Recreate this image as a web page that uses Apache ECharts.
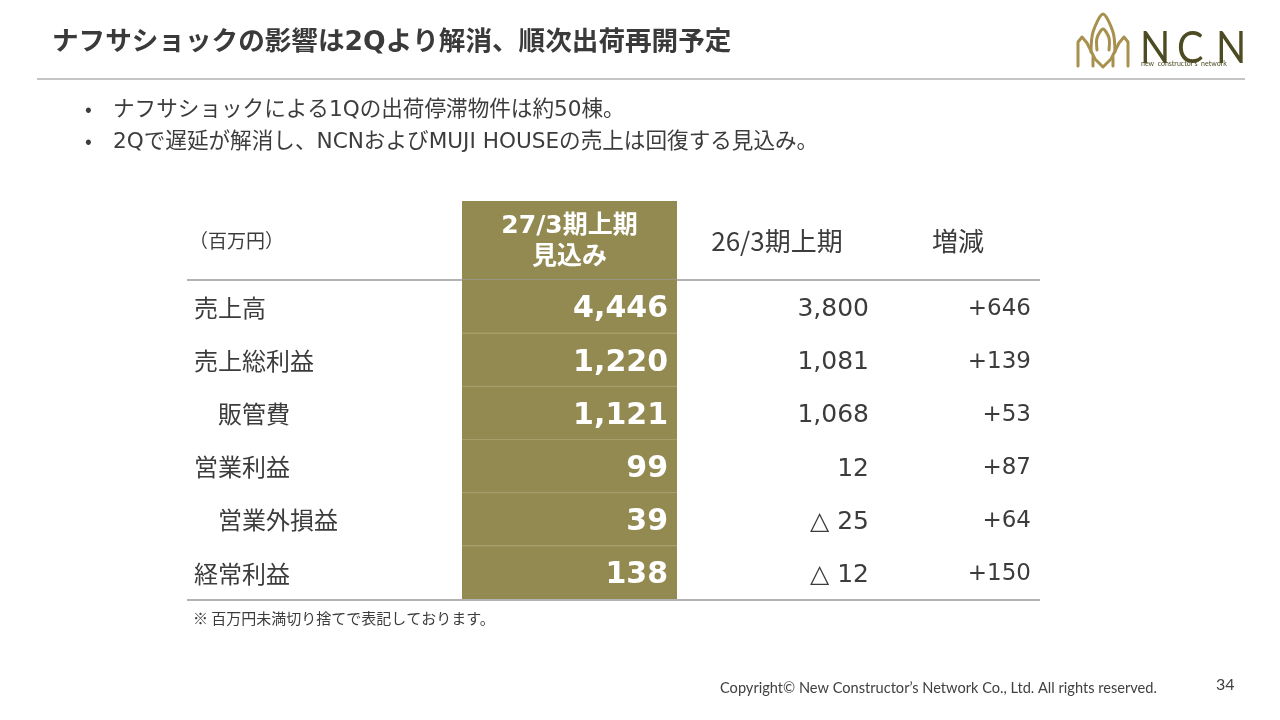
<!DOCTYPE html>
<html lang="ja">
<head>
<meta charset="UTF-8">
<script src="https://cdn.jsdelivr.net/npm/echarts@6/dist/echarts.min.js"></script>
<style>
    html, body {
        margin: 0;
        padding: 0;
        background: #fff;
    }

    #main {
        width: 1280px;
        height: 720px;
    }
</style>
<title>ナフサショックの影響</title>
</head>
<body>
<div id="main"></div>
<script>
    // 表のデータ（百万円）
    const rowLabels = ['売上高', '売上総利益', '販管費', '営業利益', '営業外損益', '経常利益'];
    const rowIndent = [false, false, true, false, true, false];
    const fy27Plan = [4446, 1220, 1121, 99, 39, 138];
    const fy26Actual = [3800, 1081, 1068, 12, -25, -12];
    const yoyChange = [646, 139, 53, 87, 64, 150];
    const headers = ['（百万円）', '27/3期上期\n見込み', '26/3期上期', '増減'];

    const titleText = 'ナフサショックの影響は2Qより解消、順次出荷再開予定';
    const bullets = [
        'ナフサショックによる1Qの出荷停滞物件は約50棟。',
        '2Qで遅延が解消し、NCNおよびMUJI HOUSEの売上は回復する見込み。'
    ];
    const noteText = '※ 百万円未満切り捨てで表記しております。';
    const copyright = 'Copyright© New Constructor’s Network Co., Ltd. All rights reserved.';
    const pageNo = '34';

    const JP = "'Noto Sans CJK JP', sans-serif";
    const NUM = "'DejaVu Sans', 'Noto Sans CJK JP', sans-serif";
    const TEXT = '#3c3c3c';
    const OLIVE = '#938a52';

    // 表のレイアウト（グリッド座標系の単位 = px）
    const HEADER_H = 79 / 53.17;
    const hiLeft = 275, hiRight = 490;
    const tableW = 853;

    const fmt = v => Math.abs(v).toLocaleString('en-US');
    const fmtActual = v => (v < 0 ? '△ ' : '') + fmt(v);
    const fmtChange = v => (v < 0 ? '△ ' : '+') + fmt(v);

    const myChart = echarts.init(document.getElementById('main'));

    function renderRow(params, api) {
        const r = api.value(0);
        const top = r < 0 ? -HEADER_H : r;
        const bottom = r < 0 ? 0 : r + 1;
        const p0 = api.coord([hiLeft, top]);
        const p1 = api.coord([hiRight, bottom]);
        const xL = api.coord([0, 0])[0];
        const xR = api.coord([tableW, 0])[0];
        const midY = (p0[1] + p1[1]) / 2;
        const at = x => api.coord([x, 0])[0];
        const children = [{
            type: 'rect',
            shape: {x: p0[0], y: p0[1], width: p1[0] - p0[0], height: p1[1] - p0[1]},
            style: {fill: OLIVE}
        }];
        if (r < 0) {
            children.push({
                type: 'line',
                shape: {x1: xL, y1: p1[1], x2: xR, y2: p1[1]},
                style: {stroke: '#9a9a9a', lineWidth: 1.5}
            });
            children.push({
                type: 'text', x: at(2), y: midY,
                style: {text: headers[0], font: '19px ' + JP, fill: TEXT, align: 'left', verticalAlign: 'middle'}
            });
            children.push({
                type: 'text', x: (p0[0] + p1[0]) / 2, y: midY + 2,
                style: {text: headers[1], font: 'bold 25px ' + NUM, lineHeight: 31, fill: '#fff', align: 'center', verticalAlign: 'middle'}
            });
            children.push({
                type: 'text', x: at(590), y: midY + 1,
                style: {text: headers[2], font: '26px ' + JP, fill: TEXT, align: 'center', verticalAlign: 'middle'}
            });
            children.push({
                type: 'text', x: at(771), y: midY + 1,
                style: {text: headers[3], font: '26px ' + JP, fill: TEXT, align: 'center', verticalAlign: 'middle'}
            });
        } else {
            if (r > 0) {
                children.push({
                    type: 'line',
                    shape: {x1: p0[0], y1: p0[1], x2: p1[0], y2: p0[1]},
                    style: {stroke: '#a69e6c', lineWidth: 1}
                });
            }
            if (r === rowLabels.length - 1) {
                children.push({
                    type: 'line',
                    shape: {x1: xL, y1: p1[1] + 1, x2: xR, y2: p1[1] + 1},
                    style: {stroke: '#9a9a9a', lineWidth: 1.5}
                });
            }
            children.push({
                type: 'text', x: at(rowIndent[r] ? 31 : 7), y: midY + 1,
                style: {text: rowLabels[r], font: '24px ' + JP, fill: TEXT, align: 'left', verticalAlign: 'middle'}
            });
            children.push({
                type: 'text', x: at(481), y: midY + 3,
                style: {text: fmt(fy27Plan[r]), font: 'bold 30px ' + NUM, fill: '#fff', align: 'right', verticalAlign: 'middle'}
            });
            children.push({
                type: 'text', x: at(682), y: midY + 3,
                style: {text: fmtActual(fy26Actual[r]), font: '25px ' + NUM, fill: TEXT, align: 'right', verticalAlign: 'middle'}
            });
            children.push({
                type: 'text', x: at(844), y: midY + 2,
                style: {text: fmtChange(yoyChange[r]), font: '23px ' + NUM, fill: TEXT, align: 'right', verticalAlign: 'middle'}
            });
        }
        return {type: 'group', children: children};
    }

    const rowData = [[-1]].concat(rowLabels.map((l, i) => [i]));

    const logoStroke = {stroke: '#a8914f', lineWidth: 3, fill: null, lineCap: 'round', lineJoin: 'round'};

    const option = {
        animation: false,
        grid: {left: 187, top: 201, width: tableW, height: 398},
        xAxis: {type: 'value', min: 0, max: tableW, show: false},
        yAxis: {type: 'value', min: -HEADER_H, max: rowLabels.length, inverse: true, show: false},
        series: [{
            type: 'custom',
            coordinateSystem: 'cartesian2d',
            renderItem: renderRow,
            data: rowData,
            silent: true
        }],
        graphic: [
            {
                type: 'text', x: 52, y: 30,
                style: {text: titleText, font: 'bold 26.6px ' + NUM, fill: '#3a3a3a'}
            },
            {
                type: 'line', shape: {x1: 37, y1: 79, x2: 1245, y2: 79},
                style: {stroke: '#b0b0b0', lineWidth: 1.5}
            },
            {
                type: 'text', x: 85, y: 98,
                style: {text: '•', font: '20px ' + JP, fill: TEXT}
            },
            {
                type: 'text', x: 113, y: 100,
                style: {text: bullets[0], font: '21.6px ' + NUM, fill: TEXT}
            },
            {
                type: 'text', x: 85, y: 130,
                style: {text: '•', font: '20px ' + JP, fill: TEXT}
            },
            {
                type: 'text', x: 113, y: 132,
                style: {text: bullets[1], font: '21.6px ' + NUM, fill: TEXT}
            },
            {
                type: 'text', x: 193, y: 611,
                style: {text: noteText, font: '15px ' + JP, fill: TEXT}
            },
            {
                type: 'text', x: 720, y: 681,
                style: {text: copyright, font: '14.6px Lato, sans-serif', fill: '#404040'}
            },
            {
                type: 'text', x: 1216, y: 677,
                style: {text: pageNo, font: '16px Lato, sans-serif', fill: '#404040'}
            },
            // ロゴ
            {
                type: 'polyline',
                shape: {points: [[1091, 52], [1093, 32], [1103, 14], [1113, 32], [1115, 52]], smooth: 0.3},
                style: logoStroke
            },
            {
                type: 'polyline',
                shape: {points: [[1097, 50], [1097, 38], [1103, 29], [1109, 38], [1109, 50]], smooth: 0.3},
                style: logoStroke
            },
            {
                type: 'polyline',
                shape: {points: [[1078, 66], [1078, 42], [1082, 37], [1087, 43], [1095, 59], [1103, 67], [1111, 59], [1119, 43], [1124, 37], [1128, 42], [1128, 66]]},
                style: logoStroke
            },
            {
                type: 'line', shape: {x1: 1093, y1: 66, x2: 1093, y2: 57},
                style: logoStroke
            },
            {
                type: 'line', shape: {x1: 1113, y1: 66, x2: 1113, y2: 57},
                style: logoStroke
            },
            {
                type: 'text', x: 1140, y: 27, scaleX: 0.9,
                style: {text: 'N', font: '44px Lato, sans-serif', fill: '#4d4b22'}
            },
            {
                type: 'text', x: 1177, y: 27, scaleX: 0.9,
                style: {text: 'C', font: '44px Lato, sans-serif', fill: '#4d4b22'}
            },
            {
                type: 'text', x: 1216, y: 27, scaleX: 0.9,
                style: {text: 'N', font: '44px Lato, sans-serif', fill: '#4d4b22'}
            },
            {
                type: 'text', x: 1141, y: 60,
                style: {text: 'new  constructor’s  network', font: '7px Lato, sans-serif', fill: '#4d4b22'}
            }
        ]
    };
    myChart.setOption(option);
</script>
</body>
</html>
